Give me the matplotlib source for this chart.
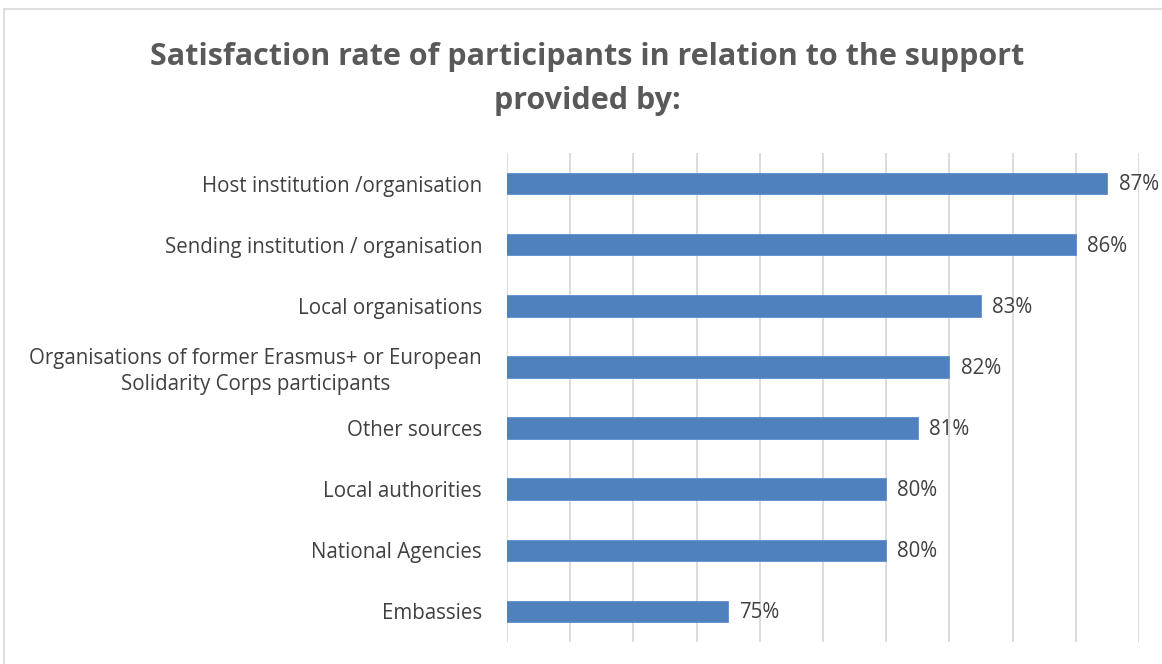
import matplotlib
matplotlib.use("Agg")
import matplotlib.pyplot as plt
from matplotlib.lines import Line2D

categories = [
    "Host institution /organisation",
    "Sending institution / organisation",
    "Local organisations",
    "Organisations of former Erasmus+ or European\nSolidarity Corps participants",
    "Other sources",
    "Local authorities",
    "National Agencies",
    "Embassies",
]
values = [0.87, 0.86, 0.83, 0.82, 0.81, 0.80, 0.80, 0.75]
value_labels = ["87%", "86%", "83%", "82%", "81%", "80%", "80%", "75%"]
title = "Satisfaction rate of participants in relation to the support\nprovided by:"

W, H = 1162, 664
fig = plt.figure(figsize=(W / 100, H / 100), dpi=100)
fig.patch.set_facecolor("white")

# outer chart border (top and left visible)
fig.add_artist(Line2D([4 / W, 4 / W], [0, 1 - 9 / H], transform=fig.transFigure, color="#d9d9d9", lw=1.2))
fig.add_artist(Line2D([4 / W, 1], [1 - 9 / H, 1 - 9 / H], transform=fig.transFigure, color="#d9d9d9", lw=1.2))

ax = fig.add_axes([507 / W, 1 - 642 / H, (1139 - 507) / W, (642 - 153) / H])
y = list(range(len(categories)))
ax.barh(y, values, height=0.35, color="#4f81bd", edgecolor="#5b8fd0", linewidth=0.6, zorder=3)
ax.set_xlim(0.68, 0.88)
ax.set_ylim(len(categories) - 0.5, -0.5)
ax.set_xticks([0.68 + 0.02 * i for i in range(11)])
ax.grid(axis="x", color="#d9d9d9", lw=1.3, zorder=0)
ax.tick_params(axis="x", length=0, labelbottom=False)
ax.tick_params(axis="y", length=0, pad=18)
ax.set_yticks(y)
ax.set_yticklabels(categories, fontsize=14.8, color="#404040", family="Open Sans",
                   multialignment="center", linespacing=1.3)
for s in ax.spines.values():
    s.set_visible(False)

for yi, v, lab in zip(y, values, value_labels):
    ax.annotate(lab, (v, yi), xytext=(8, -1), textcoords="offset points", va="center", ha="left",
                fontsize=14.8, color="#404040", family="Open Sans")

fig.text(587 / W, 1 - 79 / H, title, ha="center", va="center", fontsize=22, fontweight="bold",
         color="#595959", family="Open Sans", linespacing=1.6)

fig.savefig("out.png", dpi=100)
